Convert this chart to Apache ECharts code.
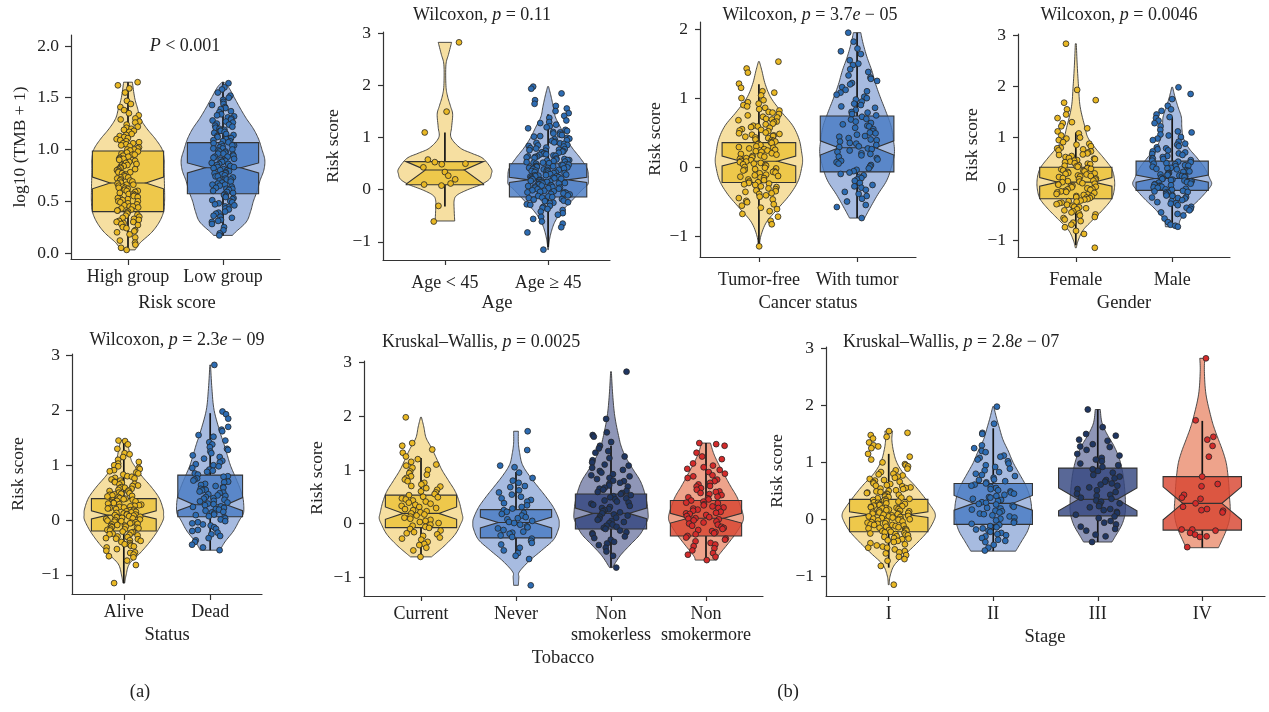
<!DOCTYPE html>
<html><head><meta charset="utf-8">
<script src="https://cdn.jsdelivr.net/npm/echarts@6/dist/echarts.min.js"></script>
<style>html,body{margin:0;padding:0;background:#fff}#c{width:1269px;height:712px}</style>
</head><body><div id="c"></div><script>
const FONT = "'Liberation Serif','Times New Roman',serif";

// ---------- categories ----------
const tmbCats = ['High group','Low group'];
const ageCats = ['Age < 45','Age ≥ 45'];
const cancerCats = ['Tumor-free','With tumor'];
const genderCats = ['Female','Male'];
const statusCats = ['Alive','Dead'];
const tobaccoCats = ['Current','Never','Non\nsmokerless','Non\nsmokermore'];
const stageCats = ['I','II','III','IV'];

// ---------- tick labels ----------
const tmbTicks = [0,0.5,1,1.5,2];
const riskTicks = [-1,0,1,2,3];

// ---------- box stats: [whiskerLow, q1, notchLow, median, notchHigh, q3, whiskerHigh] ----------
const tmbHighBox = [0.03,0.40,0.62,0.676,0.734,0.985,1.65];
const tmbLowBox = [0.17,0.573,0.773,0.824,0.87,1.066,1.65];
const ageLtBox = [-0.32,0.096,0.11,0.38,0.54,0.54,1.10];
const ageGeBox = [-1.10,-0.14,0.14,0.19,0.24,0.50,1.45];
const cancerFreeBox = [-1.13,-0.223,0.015,0.085,0.16,0.354,1.20];
const cancerTumorBox = [-0.74,-0.07,0.175,0.28,0.38,0.74,1.95];
const genderFBox = [-1.10,-0.195,0.05,0.13,0.22,0.42,1.10];
const genderMBox = [-0.74,-0.03,0.13,0.20,0.27,0.54,1.40];
const statusAliveBox = [-1.15,-0.20,0.02,0.09,0.17,0.39,1.45];
const statusDeadBox = [-0.55,0.06,0.17,0.28,0.41,0.82,1.95];
const tobCurBox = [-0.62,-0.075,0.08,0.19,0.31,0.53,1.22];
const tobNevBox = [-0.66,-0.267,-0.08,0.02,0.12,0.26,0.96];
const tobLessBox = [-0.82,-0.10,0.09,0.19,0.29,0.55,1.45];
const tobMoreBox = [-0.68,-0.23,0.01,0.10,0.19,0.43,1.50];
const stageIBox = [-0.85,-0.22,0.03,0.08,0.13,0.35,1.15];
const stageIIBox = [-0.56,-0.09,0.16,0.28,0.42,0.63,1.60];
const stageIIIBox = [-0.40,0.06,0.15,0.35,0.55,0.90,1.93];
const stageIVBox = [-0.50,-0.19,-0.01,0.28,0.57,0.75,1.73];

// ---------- violin density profiles: [value, half-width in category units] ----------
const tmbHighViolin = [[1.65,0.046],[1.5,0.07],[1.4,0.1],[1.3,0.13],[1.2,0.2],[1.1,0.29],[1.0,0.36],[0.9,0.38],[0.8,0.38],[0.6,0.385],[0.5,0.385],[0.4,0.375],[0.3,0.33],[0.2,0.25],[0.1,0.13],[0.03,0.075]];
const tmbLowViolin = [[1.65,0.01],[1.6,0.06],[1.5,0.12],[1.4,0.18],[1.3,0.245],[1.2,0.32],[1.1,0.375],[1.0,0.41],[0.9,0.44],[0.8,0.43],[0.7,0.39],[0.6,0.36],[0.5,0.32],[0.4,0.29],[0.3,0.245],[0.2,0.13],[0.17,0.1]];
const ageLtViolin = [[2.83,0.065],[2.6,0.035],[2.4,0.01],[2.0,0.01],[1.8,0.025],[1.6,0.055],[1.45,0.075],[1.2,0.065],[1.0,0.06],[0.8,0.15],[0.7,0.26],[0.6,0.37],[0.4,0.45],[0.3,0.45],[0.2,0.43],[0.1,0.35],[0.0,0.22],[-0.1,0.12],[-0.2,0.09],[-0.4,0.09],[-0.6,0.095]];
const ageGeViolin = [[1.98,0.005],[1.8,0.028],[1.6,0.05],[1.4,0.07],[1.2,0.12],[1.0,0.17],[0.8,0.235],[0.6,0.315],[0.4,0.38],[0.2,0.39],[0.1,0.385],[0.0,0.33],[-0.2,0.235],[-0.4,0.14],[-0.6,0.07],[-0.8,0.032],[-1.0,0.01],[-1.15,0.003]];
const cancerFreeViolin = [[1.53,0.005],[1.4,0.03],[1.2,0.065],[1.0,0.125],[0.8,0.23],[0.6,0.345],[0.4,0.41],[0.2,0.437],[0.1,0.445],[0.0,0.437],[-0.2,0.4],[-0.4,0.315],[-0.6,0.195],[-0.8,0.077],[-1.0,0.02],[-1.15,0.005]];
const cancerTumorViolin = [[1.95,0.038],[1.8,0.06],[1.6,0.1],[1.4,0.15],[1.2,0.19],[1.0,0.24],[0.8,0.295],[0.6,0.345],[0.4,0.37],[0.2,0.38],[0.0,0.35],[-0.2,0.3],[-0.4,0.21],[-0.6,0.13],[-0.74,0.077]];
const genderFViolin = [[2.83,0.005],[2.4,0.015],[2.0,0.028],[1.6,0.045],[1.2,0.095],[1.0,0.125],[0.8,0.2],[0.6,0.29],[0.4,0.37],[0.2,0.4],[0.0,0.4],[-0.2,0.37],[-0.4,0.285],[-0.6,0.18],[-0.8,0.078],[-1.0,0.026],[-1.15,0.005]];
const genderMViolin = [[1.98,0.005],[1.8,0.028],[1.6,0.06],[1.4,0.095],[1.2,0.1],[1.0,0.115],[0.8,0.17],[0.6,0.26],[0.4,0.34],[0.2,0.39],[0.1,0.41],[0.0,0.38],[-0.2,0.285],[-0.4,0.175],[-0.6,0.086],[-0.74,0.07]];
const statusAliveViolin = [[1.45,0.038],[1.3,0.057],[1.1,0.085],[1.0,0.12],[0.8,0.21],[0.6,0.32],[0.4,0.41],[0.2,0.455],[0.1,0.46],[0.0,0.455],[-0.2,0.39],[-0.4,0.3],[-0.6,0.19],[-0.8,0.065],[-1.0,0.027],[-1.15,0.01]];
const statusDeadViolin = [[2.83,0.004],[2.4,0.02],[2.0,0.046],[1.6,0.115],[1.4,0.157],[1.2,0.195],[1.0,0.234],[0.8,0.287],[0.6,0.34],[0.4,0.38],[0.2,0.39],[0.1,0.38],[0.0,0.34],[-0.2,0.27],[-0.4,0.17],[-0.55,0.115]];
const tobCurViolin = [[1.98,0.005],[1.8,0.03],[1.6,0.053],[1.4,0.114],[1.2,0.167],[1.0,0.22],[0.8,0.29],[0.6,0.36],[0.4,0.403],[0.2,0.43],[0.1,0.44],[0.0,0.42],[-0.2,0.36],[-0.4,0.255],[-0.55,0.158],[-0.62,0.11]];
const tobNevViolin = [[1.72,0.025],[1.5,0.025],[1.3,0.04],[1.1,0.067],[0.9,0.137],[0.7,0.225],[0.5,0.315],[0.3,0.395],[0.1,0.447],[0.0,0.455],[-0.1,0.447],[-0.3,0.395],[-0.5,0.27],[-0.7,0.137],[-0.9,0.035],[-1.0,0.03],[-1.15,0.025]];
const tobLessViolin = [[2.83,0.004],[2.4,0.018],[2.0,0.04],[1.6,0.084],[1.4,0.115],[1.2,0.167],[1.0,0.236],[0.8,0.307],[0.6,0.35],[0.4,0.377],[0.2,0.39],[0.1,0.39],[0.0,0.368],[-0.2,0.307],[-0.4,0.2],[-0.6,0.096],[-0.82,0.015]];
const tobMoreViolin = [[1.5,0.047],[1.3,0.082],[1.1,0.135],[0.9,0.196],[0.7,0.258],[0.5,0.325],[0.3,0.368],[0.2,0.386],[0.1,0.395],[0.0,0.377],[-0.2,0.307],[-0.4,0.22],[-0.6,0.13],[-0.68,0.114]];
const stageIViolin = [[1.55,0.037],[1.4,0.03],[1.2,0.045],[1.0,0.077],[0.8,0.144],[0.6,0.246],[0.4,0.335],[0.2,0.415],[0.1,0.444],[0.0,0.438],[-0.2,0.378],[-0.4,0.28],[-0.6,0.168],[-0.8,0.056],[-1.0,0.013],[-1.15,0.004]];
const stageIIViolin = [[1.98,0.005],[1.8,0.029],[1.6,0.06],[1.4,0.093],[1.2,0.144],[1.0,0.19],[0.8,0.25],[0.6,0.31],[0.4,0.35],[0.2,0.367],[0.0,0.36],[-0.2,0.33],[-0.4,0.267],[-0.56,0.215]];
const stageIIIViolin = [[1.93,0.024],[1.7,0.04],[1.5,0.088],[1.3,0.152],[1.1,0.2],[0.9,0.23],[0.7,0.248],[0.5,0.259],[0.3,0.265],[0.1,0.262],[-0.1,0.23],[-0.3,0.168],[-0.4,0.136]];
const stageIVViolin = [[2.83,0.024],[2.6,0.02],[2.2,0.035],[1.8,0.083],[1.6,0.115],[1.4,0.155],[1.2,0.196],[1.0,0.228],[0.8,0.244],[0.6,0.254],[0.4,0.26],[0.2,0.267],[0.0,0.26],[-0.2,0.228],[-0.4,0.18],[-0.5,0.155]];

const tmbHighPts = [1.65,1.62,1.59,1.55,1.47,1.44,1.41,1.38,1.35,1.33,1.30,1.29,1.27,1.26,1.24,1.22,1.21,1.20,1.19,1.18,1.17,1.15,1.14,1.13,1.12,1.11,1.10,1.09,1.08,1.07,1.06,1.06,1.05,1.04,1.03,1.02,1.01,1.00,1.00,0.99,0.98,0.97,0.96,0.95,0.95,0.94,0.93,0.92,0.91,0.91,0.90,0.89,0.88,0.87,0.86,0.85,0.85,0.84,0.83,0.82,0.81,0.81,0.80,0.79,0.78,0.78,0.77,0.76,0.75,0.74,0.73,0.73,0.72,0.71,0.70,0.70,0.69,0.68,0.67,0.66,0.66,0.65,0.64,0.63,0.63,0.62,0.61,0.60,0.60,0.59,0.58,0.57,0.57,0.56,0.55,0.54,0.53,0.53,0.52,0.51,0.50,0.50,0.49,0.48,0.47,0.46,0.45,0.45,0.44,0.43,0.42,0.41,0.41,0.40,0.39,0.38,0.37,0.36,0.35,0.34,0.33,0.32,0.31,0.30,0.30,0.29,0.28,0.27,0.25,0.24,0.22,0.21,0.20,0.18,0.15,0.12,0.10,0.08,0.05,0.03];
const tmbLowPts = [1.64,1.60,1.58,1.55,1.52,1.50,1.48,1.46,1.44,1.43,1.41,1.40,1.39,1.37,1.36,1.34,1.33,1.32,1.31,1.30,1.29,1.28,1.27,1.26,1.25,1.24,1.23,1.22,1.21,1.20,1.19,1.18,1.18,1.17,1.16,1.15,1.14,1.13,1.12,1.11,1.11,1.10,1.09,1.08,1.08,1.07,1.06,1.05,1.04,1.04,1.03,1.02,1.01,1.01,1.00,0.99,0.98,0.98,0.97,0.96,0.96,0.95,0.94,0.93,0.93,0.92,0.91,0.90,0.90,0.89,0.88,0.88,0.87,0.86,0.86,0.85,0.84,0.83,0.83,0.82,0.81,0.80,0.80,0.79,0.78,0.77,0.77,0.76,0.75,0.74,0.74,0.73,0.72,0.71,0.71,0.70,0.69,0.68,0.67,0.66,0.66,0.65,0.64,0.63,0.62,0.62,0.61,0.60,0.59,0.58,0.57,0.56,0.55,0.54,0.53,0.52,0.51,0.50,0.49,0.48,0.47,0.46,0.45,0.44,0.43,0.42,0.40,0.39,0.38,0.36,0.35,0.34,0.32,0.31,0.30,0.28,0.25,0.22,0.19,0.17];
const ageLtPts = [2.83,1.50,1.10,0.58,0.53,0.50,0.49,0.43,0.34,0.27,0.20,0.12,0.10,0.08,-0.31,-0.61];
const ageGePts = [1.98,1.94,1.85,1.72,1.65,1.61,1.56,1.51,1.47,1.42,1.38,1.33,1.30,1.28,1.25,1.22,1.20,1.18,1.15,1.13,1.11,1.10,1.08,1.06,1.05,1.03,1.02,1.00,0.98,0.97,0.95,0.94,0.92,0.91,0.90,0.89,0.88,0.86,0.85,0.84,0.83,0.81,0.80,0.79,0.78,0.77,0.76,0.75,0.74,0.73,0.72,0.71,0.70,0.69,0.68,0.67,0.66,0.65,0.64,0.64,0.63,0.62,0.61,0.60,0.59,0.58,0.57,0.57,0.56,0.55,0.54,0.53,0.52,0.52,0.51,0.50,0.49,0.48,0.48,0.47,0.46,0.45,0.45,0.44,0.43,0.42,0.42,0.41,0.40,0.39,0.38,0.38,0.37,0.36,0.35,0.35,0.34,0.33,0.32,0.32,0.31,0.30,0.29,0.28,0.28,0.27,0.26,0.26,0.25,0.24,0.23,0.23,0.22,0.21,0.21,0.20,0.19,0.18,0.18,0.17,0.16,0.15,0.15,0.14,0.13,0.12,0.12,0.11,0.10,0.09,0.08,0.08,0.07,0.06,0.05,0.04,0.04,0.03,0.02,0.01,-0.01,-0.02,-0.03,-0.04,-0.05,-0.05,-0.06,-0.07,-0.08,-0.09,-0.11,-0.12,-0.13,-0.14,-0.15,-0.16,-0.18,-0.19,-0.21,-0.22,-0.24,-0.25,-0.26,-0.28,-0.29,-0.31,-0.33,-0.35,-0.37,-0.39,-0.42,-0.45,-0.48,-0.52,-0.56,-0.61,-0.65,-0.72,-0.82,-1.15];
const cancerFreePts = [1.53,1.43,1.37,1.21,1.15,1.10,1.08,1.04,1.00,0.97,0.94,0.92,0.90,0.88,0.86,0.84,0.82,0.80,0.79,0.77,0.75,0.73,0.72,0.70,0.69,0.68,0.66,0.65,0.63,0.62,0.60,0.59,0.58,0.57,0.55,0.54,0.53,0.52,0.50,0.49,0.48,0.47,0.46,0.45,0.44,0.43,0.42,0.40,0.39,0.38,0.37,0.36,0.35,0.34,0.33,0.32,0.30,0.29,0.28,0.27,0.26,0.25,0.24,0.23,0.22,0.20,0.19,0.18,0.17,0.16,0.15,0.14,0.13,0.12,0.10,0.09,0.08,0.07,0.06,0.05,0.04,0.03,0.02,0.00,-0.01,-0.02,-0.03,-0.04,-0.05,-0.06,-0.07,-0.08,-0.09,-0.11,-0.12,-0.13,-0.14,-0.15,-0.16,-0.18,-0.19,-0.21,-0.22,-0.23,-0.24,-0.25,-0.26,-0.28,-0.29,-0.31,-0.32,-0.34,-0.35,-0.36,-0.38,-0.39,-0.41,-0.43,-0.45,-0.47,-0.49,-0.51,-0.54,-0.56,-0.59,-0.61,-0.64,-0.68,-0.72,-0.78,-0.83,-1.15];
const cancerTumorPts = [1.95,1.82,1.72,1.68,1.64,1.55,1.50,1.48,1.42,1.38,1.33,1.30,1.28,1.25,1.22,1.20,1.16,1.12,1.10,1.08,1.05,1.02,1.00,0.98,0.95,0.92,0.90,0.88,0.86,0.83,0.80,0.79,0.77,0.75,0.73,0.70,0.69,0.66,0.64,0.62,0.60,0.59,0.57,0.55,0.52,0.50,0.49,0.47,0.45,0.44,0.42,0.40,0.39,0.37,0.35,0.34,0.32,0.30,0.29,0.27,0.26,0.24,0.22,0.20,0.19,0.17,0.15,0.13,0.11,0.09,0.07,0.05,0.03,0.01,-0.02,-0.04,-0.06,-0.08,-0.10,-0.12,-0.14,-0.16,-0.18,-0.20,-0.23,-0.26,-0.28,-0.30,-0.33,-0.36,-0.39,-0.42,-0.46,-0.50,-0.55,-0.58,-0.74];
const genderFPts = [2.83,1.93,1.73,1.68,1.55,1.45,1.38,1.30,1.28,1.22,1.18,1.12,1.08,1.04,1.00,0.98,0.95,0.91,0.88,0.86,0.83,0.80,0.79,0.77,0.75,0.73,0.71,0.69,0.67,0.66,0.64,0.62,0.60,0.59,0.58,0.56,0.55,0.53,0.52,0.50,0.49,0.48,0.46,0.45,0.44,0.43,0.41,0.40,0.39,0.38,0.36,0.35,0.34,0.33,0.31,0.30,0.29,0.28,0.26,0.25,0.24,0.23,0.21,0.20,0.19,0.18,0.16,0.15,0.14,0.13,0.11,0.10,0.09,0.08,0.06,0.05,0.04,0.03,0.01,0.00,-0.01,-0.02,-0.04,-0.05,-0.06,-0.07,-0.08,-0.10,-0.11,-0.12,-0.14,-0.15,-0.16,-0.17,-0.18,-0.20,-0.21,-0.23,-0.24,-0.25,-0.27,-0.28,-0.30,-0.31,-0.33,-0.35,-0.36,-0.38,-0.40,-0.42,-0.44,-0.46,-0.48,-0.50,-0.52,-0.55,-0.57,-0.60,-0.63,-0.66,-0.70,-0.75,-0.82,-0.88,-1.15];
const genderMPts = [1.98,1.85,1.75,1.62,1.55,1.52,1.45,1.40,1.38,1.33,1.28,1.22,1.15,1.12,1.10,1.06,1.04,1.01,0.98,0.95,0.92,0.88,0.86,0.83,0.81,0.79,0.77,0.75,0.73,0.71,0.69,0.68,0.66,0.64,0.62,0.60,0.59,0.58,0.56,0.55,0.53,0.52,0.50,0.49,0.48,0.46,0.45,0.44,0.43,0.41,0.40,0.39,0.38,0.36,0.35,0.34,0.33,0.31,0.30,0.29,0.28,0.27,0.26,0.25,0.24,0.23,0.22,0.20,0.19,0.18,0.17,0.16,0.15,0.14,0.13,0.12,0.10,0.09,0.08,0.07,0.06,0.05,0.04,0.03,0.02,0.00,-0.01,-0.02,-0.04,-0.05,-0.06,-0.07,-0.08,-0.10,-0.12,-0.13,-0.14,-0.16,-0.17,-0.18,-0.19,-0.22,-0.24,-0.26,-0.28,-0.29,-0.32,-0.35,-0.37,-0.39,-0.42,-0.46,-0.49,-0.52,-0.58,-0.65,-0.70,-0.72,-0.74];
const statusAlivePts = [1.45,1.44,1.38,1.30,1.22,1.20,1.15,1.10,1.06,1.03,1.00,0.98,0.95,0.93,0.91,0.89,0.87,0.85,0.83,0.80,0.79,0.77,0.76,0.74,0.72,0.70,0.69,0.68,0.66,0.65,0.63,0.62,0.60,0.59,0.58,0.57,0.55,0.54,0.53,0.52,0.50,0.49,0.48,0.47,0.46,0.45,0.44,0.43,0.42,0.40,0.39,0.38,0.37,0.36,0.35,0.34,0.33,0.32,0.31,0.30,0.29,0.28,0.27,0.26,0.25,0.24,0.23,0.22,0.21,0.20,0.19,0.18,0.17,0.16,0.15,0.14,0.13,0.12,0.11,0.10,0.10,0.09,0.08,0.07,0.06,0.05,0.04,0.03,0.02,0.01,0.00,-0.01,-0.02,-0.03,-0.04,-0.05,-0.06,-0.07,-0.08,-0.09,-0.10,-0.11,-0.12,-0.13,-0.14,-0.15,-0.16,-0.17,-0.18,-0.19,-0.21,-0.22,-0.23,-0.25,-0.26,-0.27,-0.28,-0.30,-0.31,-0.33,-0.34,-0.35,-0.37,-0.38,-0.40,-0.42,-0.44,-0.45,-0.47,-0.48,-0.50,-0.53,-0.56,-0.59,-0.60,-0.63,-0.66,-0.68,-0.74,-0.82,-1.15];
const statusDeadPts = [2.83,1.98,1.93,1.85,1.70,1.65,1.62,1.55,1.52,1.45,1.42,1.38,1.33,1.30,1.28,1.25,1.22,1.18,1.15,1.12,1.08,1.05,1.02,1.00,0.98,0.95,0.92,0.90,0.88,0.85,0.83,0.80,0.79,0.76,0.74,0.72,0.70,0.69,0.66,0.64,0.62,0.60,0.59,0.57,0.55,0.54,0.52,0.50,0.49,0.47,0.45,0.44,0.42,0.40,0.39,0.37,0.35,0.34,0.32,0.30,0.29,0.27,0.25,0.24,0.22,0.20,0.19,0.17,0.15,0.14,0.12,0.10,0.09,0.07,0.05,0.03,0.01,-0.02,-0.04,-0.06,-0.08,-0.10,-0.13,-0.16,-0.18,-0.20,-0.23,-0.26,-0.29,-0.33,-0.37,-0.40,-0.45,-0.50,-0.55];
const tobCurPts = [1.98,1.50,1.45,1.38,1.32,1.25,1.20,1.15,1.10,1.08,1.04,1.00,0.97,0.94,0.91,0.88,0.85,0.82,0.79,0.76,0.73,0.70,0.69,0.66,0.63,0.60,0.58,0.55,0.53,0.50,0.49,0.47,0.45,0.43,0.41,0.39,0.37,0.35,0.33,0.31,0.29,0.27,0.25,0.23,0.21,0.19,0.17,0.15,0.13,0.11,0.09,0.07,0.05,0.03,0.01,-0.02,-0.04,-0.06,-0.08,-0.10,-0.13,-0.16,-0.18,-0.20,-0.23,-0.26,-0.28,-0.30,-0.34,-0.38,-0.40,-0.45,-0.50,-0.62];
const tobNevPts = [1.72,1.37,1.08,1.05,0.95,0.85,0.80,0.76,0.70,0.68,0.62,0.58,0.54,0.50,0.47,0.44,0.41,0.38,0.34,0.31,0.28,0.25,0.22,0.20,0.18,0.15,0.12,0.10,0.08,0.05,0.03,0.01,-0.02,-0.05,-0.07,-0.09,-0.12,-0.15,-0.17,-0.19,-0.22,-0.25,-0.28,-0.32,-0.36,-0.39,-0.45,-0.50,-0.55,-0.60,-0.66,-1.15];
const tobLessPts = [2.83,1.95,1.70,1.65,1.62,1.52,1.45,1.40,1.35,1.32,1.25,1.22,1.18,1.14,1.10,1.08,1.04,1.00,0.98,0.95,0.92,0.90,0.88,0.85,0.83,0.80,0.79,0.76,0.74,0.71,0.69,0.67,0.65,0.63,0.61,0.59,0.57,0.55,0.53,0.51,0.49,0.47,0.45,0.43,0.41,0.39,0.37,0.35,0.33,0.31,0.29,0.27,0.25,0.23,0.21,0.19,0.17,0.15,0.13,0.11,0.09,0.07,0.05,0.03,0.01,-0.02,-0.04,-0.06,-0.08,-0.10,-0.13,-0.16,-0.18,-0.20,-0.24,-0.27,-0.30,-0.34,-0.37,-0.40,-0.45,-0.52,-0.60,-0.82];
const tobMorePts = [1.50,1.48,1.45,1.32,1.25,1.20,1.12,1.08,1.05,1.02,1.00,0.96,0.93,0.90,0.88,0.85,0.82,0.79,0.76,0.73,0.70,0.69,0.66,0.63,0.60,0.59,0.57,0.55,0.53,0.50,0.49,0.47,0.45,0.43,0.41,0.39,0.38,0.36,0.34,0.32,0.30,0.29,0.28,0.26,0.24,0.22,0.20,0.19,0.18,0.16,0.14,0.12,0.10,0.09,0.08,0.06,0.04,0.02,0.00,-0.02,-0.04,-0.06,-0.08,-0.10,-0.12,-0.14,-0.16,-0.18,-0.20,-0.23,-0.26,-0.28,-0.30,-0.33,-0.36,-0.39,-0.42,-0.46,-0.50,-0.55,-0.58,-0.62,-0.68];
const stageIPts = [1.55,1.52,1.48,1.45,1.42,1.35,1.30,1.28,1.25,1.15,1.10,1.05,1.00,0.97,0.95,0.93,0.89,0.86,0.83,0.80,0.79,0.77,0.75,0.73,0.71,0.69,0.68,0.66,0.65,0.63,0.62,0.60,0.59,0.58,0.56,0.55,0.54,0.53,0.51,0.50,0.49,0.48,0.47,0.46,0.45,0.44,0.43,0.42,0.40,0.39,0.38,0.37,0.36,0.35,0.34,0.33,0.32,0.31,0.30,0.29,0.28,0.27,0.26,0.25,0.24,0.23,0.22,0.21,0.20,0.20,0.19,0.18,0.17,0.16,0.15,0.15,0.14,0.13,0.12,0.11,0.10,0.10,0.09,0.08,0.07,0.06,0.05,0.05,0.04,0.03,0.02,0.01,0.00,0.00,-0.01,-0.02,-0.03,-0.04,-0.05,-0.06,-0.07,-0.08,-0.09,-0.10,-0.10,-0.11,-0.12,-0.13,-0.14,-0.15,-0.16,-0.17,-0.18,-0.19,-0.20,-0.21,-0.22,-0.23,-0.24,-0.25,-0.26,-0.27,-0.28,-0.30,-0.31,-0.33,-0.34,-0.35,-0.37,-0.38,-0.40,-0.42,-0.44,-0.46,-0.48,-0.50,-0.50,-0.53,-0.56,-0.58,-0.60,-0.63,-0.66,-0.70,-0.73,-0.82,-1.15];
const stageIIPts = [1.98,1.68,1.52,1.50,1.30,1.25,1.20,1.18,1.12,1.10,1.08,1.05,1.02,0.98,0.95,0.92,0.89,0.86,0.83,0.80,0.78,0.76,0.73,0.70,0.69,0.67,0.65,0.63,0.61,0.59,0.57,0.55,0.53,0.51,0.49,0.47,0.45,0.43,0.41,0.39,0.38,0.36,0.34,0.32,0.30,0.29,0.27,0.26,0.24,0.22,0.20,0.19,0.17,0.15,0.14,0.12,0.10,0.09,0.07,0.05,0.03,0.01,-0.02,-0.04,-0.06,-0.08,-0.10,-0.12,-0.14,-0.16,-0.18,-0.20,-0.22,-0.24,-0.26,-0.28,-0.30,-0.33,-0.36,-0.38,-0.40,-0.45,-0.50,-0.55];
const stageIIIPts = [1.93,1.62,1.50,1.47,1.40,1.38,1.32,1.28,1.27,1.22,1.15,1.12,1.08,1.05,1.02,0.98,0.95,0.92,0.88,0.85,0.82,0.78,0.75,0.72,0.69,0.66,0.63,0.61,0.59,0.56,0.53,0.51,0.48,0.45,0.43,0.41,0.38,0.36,0.33,0.31,0.28,0.26,0.23,0.21,0.18,0.16,0.13,0.11,0.08,0.05,0.02,-0.03,-0.06,-0.09,-0.13,-0.17,-0.20,-0.27,-0.30,-0.40];
const stageIVPts = [2.83,1.74,1.45,1.40,1.29,1.10,0.75,0.62,0.58,0.43,0.38,0.36,0.28,0.22,0.18,0.16,0.15,0.12,-0.18,-0.18,-0.20,-0.24,-0.27,-0.30,-0.31,-0.49];

// ---------- styling ----------
const PAL = {
  y:{v:'#f6dfa1', b:'rgba(235,195,56,0.82)', p:'#e9b824'},
  b:{v:'#a7bbe0', b:'rgba(73,123,195,0.82)', p:'#2d6cb3'},
  n:{v:'#8f96b7', b:'rgba(53,71,128,0.82)', p:'#1f3662'},
  r:{v:'#eea38b', b:'rgba(216,69,49,0.82)', p:'#d42b2b'}
};
const panels = [
  {rect:[71,35,209,224], ymin:-0.058, ymax:2.106, ticks:tmbTicks, dec:1, cats:tmbCats, jit:0.12, tick:6, xm:8,
   groups:[[tmbHighViolin,tmbHighBox,tmbHighPts,'y'],[tmbLowViolin,tmbLowBox,tmbLowPts,'b']]},
  {rect:[383,32,227,228], ymin:-1.349, ymax:3.029, ticks:riskTicks, cats:ageCats, jit:0.21, tick:5, xm:13,
   groups:[[ageLtViolin,ageLtBox,ageLtPts,'y'],[ageGeViolin,ageGeBox,ageGePts,'b']]},
  {rect:[700,22,216,235], ymin:-1.305, ymax:2.105, ticks:[-1,0,1,2], cats:cancerCats, jit:0.21, tick:5, xm:13,
   groups:[[cancerFreeViolin,cancerFreeBox,cancerFreePts,'y'],[cancerTumorViolin,cancerTumorBox,cancerTumorPts,'b']]},
  {rect:[1018,34,212,223], ymin:-1.33, ymax:3.02, ticks:riskTicks, cats:genderCats, jit:0.21, tick:5, xm:13,
   groups:[[genderFViolin,genderFBox,genderFPts,'y'],[genderMViolin,genderMBox,genderMPts,'b']]},
  {rect:[72,354,190,240], ymin:-1.349, ymax:3.029, ticks:riskTicks, cats:statusCats, jit:0.21, tick:6, xm:8,
   groups:[[statusAliveViolin,statusAliveBox,statusAlivePts,'y'],[statusDeadViolin,statusDeadBox,statusDeadPts,'b']]},
  {rect:[364,361,399,235], ymin:-1.349, ymax:3.029, ticks:riskTicks, cats:tobaccoCats, jit:0.21, tick:5, xm:8,
   groups:[[tobCurViolin,tobCurBox,tobCurPts,'y'],[tobNevViolin,tobNevBox,tobNevPts,'b'],[tobLessViolin,tobLessBox,tobLessPts,'n'],[tobMoreViolin,tobMoreBox,tobMorePts,'r']]},
  {rect:[826,347,439,249], ymin:-1.349, ymax:3.029, ticks:riskTicks, cats:stageCats, jit:0.21, tick:5, xm:8,
   groups:[[stageIViolin,stageIBox,stageIPts,'y'],[stageIIViolin,stageIIBox,stageIIPts,'b'],[stageIIIViolin,stageIIIBox,stageIIIPts,'n'],[stageIVViolin,stageIVBox,stageIVPts,'r']]}
];

// Catmull-Rom smoothing of a violin outline (drawing only)
function smoothProf(p){
  const out=[];
  for(let i=0;i<p.length-1;i++){
    const p0=p[Math.max(i-1,0)],p1=p[i],p2=p[i+1],p3=p[Math.min(i+2,p.length-1)];
    for(let s=0;s<8;s++){
      const t=s/8,t2=t*t,t3=t2*t;
      const f=(a,b,c,d)=>0.5*(2*b+(-a+c)*t+(2*a-5*b+4*c-d)*t2+(-a+3*b-3*c+d)*t3);
      out.push([f(p0[0],p1[0],p2[0],p3[0]), Math.max(0.002,f(p0[1],p1[1],p2[1],p3[1]))]);
    }
  }
  out.push(p[p.length-1]);
  return out;
}
// horizontal jitter spread (layout only)
function jitter(k,g){ const s=Math.sin((k+1)*12.9898+g*78.233)*43758.5453; return (s-Math.floor(s))*2-1; }

const option = {animation:false, backgroundColor:'#fff', grid:[], xAxis:[], yAxis:[], series:[], graphic:{elements:[]}};
const axisCol = '#333';
panels.forEach((P,pi)=>{
  const n=P.cats.length, cv=P.cats.map((_,i)=>i+1);
  option.grid.push({left:P.rect[0], top:P.rect[1], width:P.rect[2], height:P.rect[3]});
  option.xAxis.push({type:'value', gridIndex:pi, min:0.4, max:n+0.6, splitLine:{show:false},
    axisLine:{show:true,onZero:false,lineStyle:{color:axisCol,width:1.2}},
    axisTick:{show:true,customValues:cv,length:P.tick,lineStyle:{color:axisCol,width:1.2}},
    axisLabel:{show:true,customValues:cv,formatter:v=>P.cats[Math.round(v)-1]||'',margin:P.xm,
      fontFamily:FONT,fontSize:18,color:'#222',lineHeight:21}});
  option.yAxis.push({type:'value', gridIndex:pi, min:P.ymin, max:P.ymax, splitLine:{show:false},
    axisLine:{show:true,onZero:false,lineStyle:{color:axisCol,width:1.2}},
    axisTick:{show:true,customValues:P.ticks,length:P.tick,lineStyle:{color:axisCol,width:1.2}},
    axisLabel:{show:true,customValues:P.ticks,margin:12,fontFamily:FONT,fontSize:17.5,color:'#222',
      formatter:v=>P.dec?v.toFixed(1):(v<0?'\u2212'+Math.abs(v):String(Math.round(v)))}});
  P.groups.forEach((G,gi)=>{
    const [vio,box,pts,ck]=G, c=gi+1, col=PAL[ck];
    const prof=smoothProf(vio);
    option.series.push({type:'custom', xAxisIndex:pi, yAxisIndex:pi, z:2, silent:true, clip:false,
      data:[[c,box[3]]], encode:{x:0,y:1},
      renderItem:(params,api)=>{
        const points=[];
        for(const [y,w] of prof) points.push(api.coord([c-w,y]));
        for(let i=prof.length-1;i>=0;i--) points.push(api.coord([c+prof[i][1],prof[i][0]]));
        return {type:'polygon',shape:{points},style:{fill:col.v,stroke:'#3a3a3a',lineWidth:0.9}};
      }});
    option.series.push({type:'custom', xAxisIndex:pi, yAxisIndex:pi, z:3, silent:true, clip:false,
      data:[[c,box[3]]], encode:{x:0,y:1},
      renderItem:(params,api)=>{
        const [wl,q1,nl,md,nh,q3,wh]=box, hw=0.375, ind=0.1875, Pt=(x,y)=>api.coord([x,y]);
        const a=Pt(c,wh),b=Pt(c,q3),d=Pt(c,q1),e=Pt(c,wl);
        const m1=Pt(c-hw+ind,md), m2=Pt(c+hw-ind,md);
        return {type:'group',children:[
          {type:'line',shape:{x1:a[0],y1:a[1],x2:b[0],y2:b[1]},style:{stroke:'#151515',lineWidth:1.7}},
          {type:'line',shape:{x1:d[0],y1:d[1],x2:e[0],y2:e[1]},style:{stroke:'#151515',lineWidth:1.7}},
          {type:'polygon',shape:{points:[Pt(c-hw,q3),Pt(c-hw,nh),m1,Pt(c-hw,nl),Pt(c-hw,q1),Pt(c+hw,q1),Pt(c+hw,nl),m2,Pt(c+hw,nh),Pt(c+hw,q3)]},
            style:{fill:col.b,stroke:'#333',lineWidth:1.1}},
          {type:'line',shape:{x1:m1[0],y1:m1[1],x2:m2[0],y2:m2[1]},style:{stroke:'#333',lineWidth:1.1}}
        ]};
      }});
    option.series.push({type:'scatter', xAxisIndex:pi, yAxisIndex:pi, z:4, silent:true, symbolSize:5.8,
      itemStyle:{color:col.p,borderColor:'#262626',borderWidth:0.8,opacity:1},
      data:pts.map((y,k)=>[c+P.jit*jitter(k,pi*4+gi),y])});
  });
});

// ---------- texts ----------
const richStyle = {n:{fontFamily:FONT,fontSize:18,fill:'#222'}, i:{fontFamily:FONT,fontSize:18,fontStyle:'italic',fill:'#222'}};
const rt = parts => parts.map(([t,i])=>'{'+(i?'i':'n')+'|'+t+'}').join('');
function T(x,y,text,o={}){
  return {type:'text',x,y,rotation:o.rot||0,silent:true,z:100,
    style:{text,fill:'#222',fontFamily:FONT,fontSize:o.fs||17,align:o.al||'center',verticalAlign:'middle',rich:o.rich}};
}
const titleTexts = [
  [185,46,[['P',1],[' < 0.001',0]],'center'],
  [482,15,[['Wilcoxon, ',0],['p',1],[' = 0.11',0]],'center'],
  [810,15,[['Wilcoxon, ',0],['p',1],[' = 3.7',0],['e',1],[' \u2212 05',0]],'center'],
  [1119,15,[['Wilcoxon, ',0],['p',1],[' = 0.0046',0]],'center'],
  [177,340,[['Wilcoxon, ',0],['p',1],[' = 2.3',0],['e',1],[' \u2212 09',0]],'center'],
  [382,342,[['Kruskal\u2013Wallis, ',0],['p',1],[' = 0.0025',0]],'left'],
  [843,342,[['Kruskal\u2013Wallis, ',0],['p',1],[' = 2.8',0],['e',1],[' \u2212 07',0]],'left']
];
titleTexts.forEach(([x,y,parts,al])=>option.graphic.elements.push(T(x,y,rt(parts),{al,rich:richStyle})));
const yTitles = [[20,147,'log10 (TMB + 1)'],[333,146,'Risk score'],[655,139,'Risk score'],[972,145,'Risk score'],[18,474,'Risk score'],[317,478,'Risk score'],[777,471,'Risk score']];
yTitles.forEach(([x,y,t])=>option.graphic.elements.push(T(x,y,t,{rot:Math.PI/2,fs:17.5})));
const xTitles = [[177,303,'Risk score'],[497,303,'Age'],[808,303,'Cancer status'],[1124,303,'Gender'],[167,635,'Status'],[563,658,'Tobacco'],[1045,637,'Stage']];
xTitles.forEach(([x,y,t])=>option.graphic.elements.push(T(x,y,t,{fs:18.5})));
option.graphic.elements.push(T(140,692,'(a)',{fs:18.5}), T(788,692,'(b)',{fs:18.5}));

const chart = echarts.init(document.getElementById('c'), null, {renderer:'canvas'});
chart.setOption(option);
</script></body></html>
